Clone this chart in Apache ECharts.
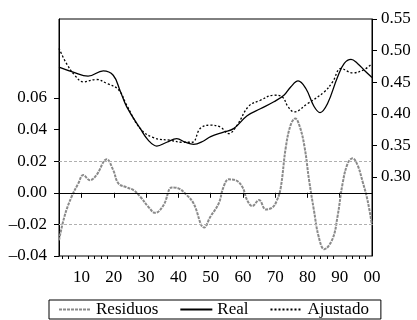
<!DOCTYPE html>
<html>
<head>
<meta charset="utf-8">
<script src="https://cdn.jsdelivr.net/npm/echarts@6/dist/echarts.min.js"></script>
<style>
  html, body { margin: 0; padding: 0; background: #fff; }
  #chart { width: 417px; height: 320px; }
</style>
</head>
<body>
<div id="chart"></div>
<script>
// Real (right axis)
var realYears = [1903, 1907.4, 1912, 1916.7, 1919.8, 1921.9, 1924, 1928.2, 1930.7, 1933.3, 1936.4, 1939.5,
    1942.1, 1944.7, 1947.8, 1950, 1954, 1957.1, 1961.3, 1965.4, 1969.6, 1972.7, 1974.8, 1977.1, 1979.5,
    1982, 1983.9, 1986.2, 1989.3, 1991.4, 1993.5, 1995.5, 1997.6, 2000];
var realValues = [0.474, 0.466, 0.4595, 0.468, 0.461, 0.437, 0.411, 0.3765, 0.358, 0.349, 0.355, 0.3606,
    0.355, 0.3516, 0.357, 0.364, 0.371, 0.3765, 0.397, 0.408, 0.419, 0.4294, 0.4425, 0.452, 0.44,
    0.412, 0.402, 0.416, 0.458, 0.4797, 0.486, 0.4797, 0.469, 0.4575];

// Ajustado (right axis)
var fitYears = [1903, 1905.3, 1907.9, 1910.5, 1914.6, 1917.8, 1921.4, 1924, 1928.2, 1932.4, 1937.6, 1941.2,
    1944.3, 1946.8, 1949.9, 1953, 1955.6, 1958.2, 1961.8, 1965.4, 1969.6, 1972.2, 1974, 1975.9, 1980,
    1985.2, 1987.8, 1990.4, 1994, 1997.6, 2000];
var fitValues = [0.5035, 0.4797, 0.461, 0.4505, 0.4543, 0.448, 0.4384, 0.4135, 0.3765, 0.362, 0.358, 0.355,
    0.355, 0.377, 0.382, 0.379, 0.3686, 0.382, 0.412, 0.4214, 0.4294, 0.4267, 0.411, 0.403, 0.416,
    0.4346, 0.4505, 0.4717, 0.4648, 0.470, 0.4797];

// Residuos (left axis)
var resYears = [1903, 1904.8, 1906.9, 1909, 1910.5, 1912.6, 1914.6, 1917.8, 1919.8, 1921.4, 1924, 1926.1,
    1928.2, 1930.7, 1932.8, 1935.4, 1938, 1940, 1942.6, 1944.7, 1948, 1949.9, 1952.5, 1954, 1955.6,
    1957.7, 1959.8, 1961.3, 1962.9, 1965, 1967.1, 1969.1, 1970.5, 1971.7, 1973.3, 1974.8, 1976.2,
    1977.6, 1979.1, 1980.5, 1982, 1983.5, 1985.2, 1987.8, 1989.3, 1990.9, 1992.5, 1994, 1995.5,
    1997.1, 1998.6, 2000];
var resValues = [-0.030, -0.0142, -0.0025, 0.006, 0.0112, 0.008, 0.0112, 0.0212, 0.0144, 0.006, 0.0034, 0.0017,
    -0.0025, -0.0089, -0.0127, -0.0078, 0.0034, 0.0028, -0.0015, -0.0067, -0.022, -0.0152, -0.0067, 0.0038, 0.0085,
    0.008, 0.0038, -0.0046, -0.0084, -0.0046, -0.0105, -0.0093, -0.005, 0.003, 0.029, 0.043, 0.047,
    0.042, 0.029, 0.008, -0.011, -0.028, -0.0357, -0.029, -0.0152, 0.006, 0.0187, 0.0218, 0.0176,
    0.007, -0.0046, -0.0205];

var bandLimit = 0.0175;

var xTickYears = [1910, 1920, 1930, 1940, 1950, 1960, 1970, 1980, 1990, 2000];
var xTickLabels = ['10', '20', '30', '40', '50', '60', '70', '80', '90', '00'];
var leftTicks = [-0.04, -0.02, 0, 0.02, 0.04, 0.06];
var rightTicks = [0.30, 0.35, 0.40, 0.45, 0.50, 0.55];

var minorYears = [];
for (var y = 1904; y < 2000; y += 2) {
    if (y % 10 !== 0) minorYears.push(y);
}

function pairs(xs, vs) {
    return xs.map(function (x, i) { return [x, vs[i]]; });
}

var FONT = 'Liberation Serif';
var chart = echarts.init(document.getElementById('chart'));
var option = {
    animation: false,
    grid: {
        left: 59, right: 45, top: 19, bottom: 64,
        show: true, borderColor: '#000', borderWidth: 1
    },
    legend: {
        left: 49, top: 300,
        padding: [1, 12, 1, 9],
        borderColor: '#000', borderWidth: 1,
        itemWidth: 32, itemHeight: 14, itemGap: 21,
        itemStyle: { opacity: 0 },
        textStyle: { fontFamily: FONT, fontSize: 17, color: '#000' },
        data: ['Residuos', 'Real', 'Ajustado']
    },
    xAxis: [
        {
            type: 'value', min: 1903, max: 2000, position: 'bottom',
            splitLine: { show: false },
            axisLine: { lineStyle: { color: '#000' } },
            axisTick: { customValues: xTickYears, length: 5, lineStyle: { color: '#000' } },
            axisLabel: {
                customValues: xTickYears, margin: 13,
                fontFamily: FONT, fontSize: 17, color: '#000',
                formatter: function (v) { return xTickLabels[xTickYears.indexOf(Math.round(v))]; }
            }
        },
        {
            type: 'value', min: 1903, max: 2000, position: 'bottom',
            splitLine: { show: false },
            axisLine: { show: false },
            axisTick: { customValues: minorYears, length: 3, lineStyle: { color: '#000' } },
            axisLabel: { show: false }
        }
    ],
    yAxis: [
        {
            type: 'value', min: -0.04, max: 0.11, position: 'left',
            splitLine: { show: false },
            axisLine: { show: true, lineStyle: { color: '#000' } },
            axisTick: { customValues: leftTicks, length: 5, lineStyle: { color: '#000' } },
            axisLabel: {
                customValues: leftTicks, margin: 12,
                fontFamily: FONT, fontSize: 17, color: '#000',
                formatter: function (v) { return (v < -1e-9 ? '\u2013' : '') + Math.abs(v).toFixed(2); }
            }
        },
        {
            type: 'value', min: 0.175, max: 0.55, position: 'right',
            splitLine: { show: false },
            axisLine: { show: true, lineStyle: { color: '#000' } },
            axisTick: { customValues: rightTicks, length: 5, lineStyle: { color: '#000' } },
            axisLabel: {
                customValues: rightTicks, margin: 9,
                fontFamily: FONT, fontSize: 17, color: '#000',
                formatter: function (v) { return v.toFixed(2); }
            }
        }
    ],
    series: [
        {
            name: 'Residuos', type: 'line', xAxisIndex: 0, yAxisIndex: 0,
            data: pairs(resYears, resValues),
            smooth: 0.4, symbol: 'none',
            lineStyle: { color: '#8a8a8a', width: 2, type: [3, 1] },
            itemStyle: { color: '#8a8a8a' },
            markLine: {
                silent: true, symbol: 'none', label: { show: false },
                data: [
                    { yAxis: 0, lineStyle: { color: '#000', width: 1, type: 'solid' } },
                    { yAxis: bandLimit, lineStyle: { color: '#b0b0b0', width: 1, type: [3, 2] } },
                    { yAxis: -bandLimit, lineStyle: { color: '#b0b0b0', width: 1, type: [3, 2] } }
                ]
            },
            z: 3
        },
        {
            name: 'Real', type: 'line', xAxisIndex: 0, yAxisIndex: 1,
            data: pairs(realYears, realValues),
            smooth: 0.4, symbol: 'none',
            lineStyle: { color: '#000', width: 1.3 },
            itemStyle: { color: '#000' }
        },
        {
            name: 'Ajustado', type: 'line', xAxisIndex: 0, yAxisIndex: 1,
            data: pairs(fitYears, fitValues),
            smooth: 0.4, symbol: 'none',
            lineStyle: { color: '#000', width: 1.3, type: [2, 2] },
            itemStyle: { color: '#000' }
        }
    ]
};
chart.setOption(option);
</script>
</body>
</html>
